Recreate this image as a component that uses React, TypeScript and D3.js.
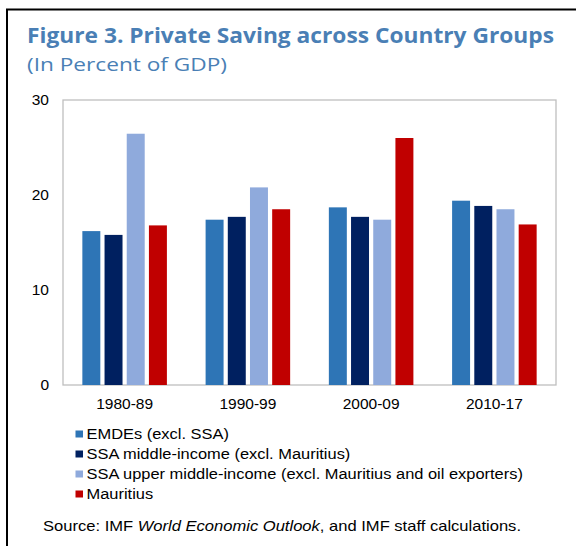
import React from "react";
import * as d3 from "d3";

const categories = ["1980-89", "1990-99", "2000-09", "2010-17"];
const seriesNames = [
  "EMDEs (excl. SSA)",
  "SSA middle-income (excl. Mauritius)",
  "SSA upper middle-income (excl. Mauritius and oil exporters)",
  "Mauritius",
];
const emdes = [16.2, 17.4, 18.7, 19.4];
const ssaMiddle = [15.8, 17.7, 17.7, 18.85];
const ssaUpper = [26.45, 20.8, 17.4, 18.5];
const mauritius = [16.8, 18.5, 26.0, 16.9];
const seriesColors = ["#2E75B6", "#002060", "#8FAADC", "#C00000"];
const yTicks = [0, 10, 20, 30];

const W = 576;
const H = 546;
const plot = { left: 63, right: 556, top: 100, bottom: 385 };

export default function App() {
  const values = [emdes, ssaMiddle, ssaUpper, mauritius];
  const x0 = d3
    .scaleBand<string>()
    .domain(categories)
    .range([plot.left, plot.right])
    .paddingInner(0.314)
    .paddingOuter(0.157);
  const x1 = d3
    .scaleBand<string>()
    .domain(seriesNames)
    .range([0, x0.bandwidth()])
    .paddingInner(0.19);
  const y = d3.scaleLinear().domain([0, 30]).range([plot.bottom, plot.top]);

  const font = "'Liberation Sans', Arial, sans-serif";
  const titleFont = "'Open Sans', 'Noto Sans', sans-serif";

  return (
    <svg
      width={W}
      height={H}
      style={{ position: "absolute", left: 0, top: 0, background: "#fff" }}
    >
      <rect x={0} y={0} width={W} height={H} fill="#fff" />
      {/* outer frame */}
      <rect x={7} y={9.5} width={W + 20} height={H + 20} fill="none" stroke="#000" strokeWidth={2} />

      <text
        x={27}
        y={43}
        fontFamily={titleFont}
        fontWeight={700}
        fontSize={21.5}
        fill="#4A7FB5"
        textLength={527}
        lengthAdjust="spacingAndGlyphs"
      >
        Figure 3. Private Saving across Country Groups
      </text>
      <text
        x={27}
        y={71}
        fontFamily={titleFont}
        fontSize={19}
        fill="#4A7FB5"
        textLength={200}
        lengthAdjust="spacingAndGlyphs"
      >
        (In Percent of GDP)
      </text>

      {/* plot frame */}
      <rect
        x={plot.left}
        y={plot.top}
        width={plot.right - plot.left}
        height={plot.bottom - plot.top}
        fill="none"
        stroke="#BFBFBF"
        strokeWidth={1.3}
      />

      {yTicks.map((t) => (
        <text
          key={t}
          x={49}
          y={y(t) + 5}
          textAnchor="end"
          fontFamily={font}
          fontSize={15.5}
          fill="#000"
        >
          {t}
        </text>
      ))}

      {categories.map((c, ci) => (
        <g key={c}>
          {seriesNames.map((s, si) => {
            const v = values[si][ci];
            return (
              <rect
                key={s}
                x={(x0(c) as number) + (x1(s) as number)}
                y={y(v)}
                width={x1.bandwidth()}
                height={y(0) - y(v)}
                fill={seriesColors[si]}
              />
            );
          })}
          <text
            x={(x0(c) as number) + x0.bandwidth() / 2}
            y={408.5}
            textAnchor="middle"
            fontFamily={font}
            fontSize={15.5}
            fill="#000"
          >
            {c}
          </text>
        </g>
      ))}

      {seriesNames.map((s, si) => (
        <g key={s}>
          <rect x={75.5} y={430.5 + si * 20} width={7.5} height={7} fill={seriesColors[si]} />
          <g transform={`translate(86.5, ${438.5 + si * 20}) scale(1.06, 1)`}>
            <text x={0} y={0} fontFamily={font} fontSize={15.5} fill="#000">
              {s}
            </text>
          </g>
        </g>
      ))}

      <text x={43} y={530.5} fontFamily={font} fontSize={15} fill="#000" textLength={478} lengthAdjust="spacingAndGlyphs">
        <tspan>Source: IMF  </tspan>
        <tspan fontStyle="italic">World Economic Outlook</tspan>
        <tspan>, and IMF staff calculations.</tspan>
      </text>
    </svg>
  );
}
